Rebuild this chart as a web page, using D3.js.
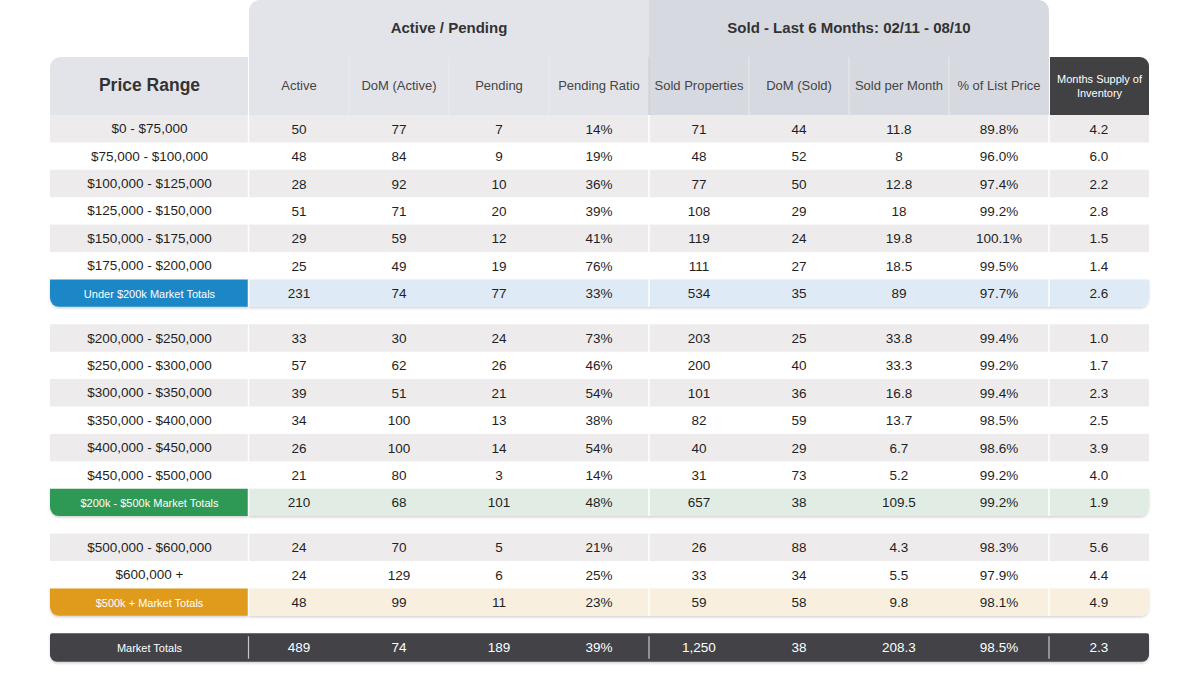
<!DOCTYPE html>
<html>
<head>
<meta charset="utf-8">
<script src="https://cdn.jsdelivr.net/npm/d3@7"></script>
<style>
  body { margin: 0; background: #fff; }
  svg { display: block; font-family: "Liberation Sans", Arial, sans-serif; }
</style>
</head>
<body>
<div id="chart"></div>
<script>
// rows in display order; kind: r = range row, t = group total, g = market total
const priceRanges = [
  "$0 - $75,000", "$75,000 - $100,000", "$100,000 - $125,000", "$125,000 - $150,000",
  "$150,000 - $175,000", "$175,000 - $200,000", "Under $200k Market Totals",
  "$200,000 - $250,000", "$250,000 - $300,000", "$300,000 - $350,000", "$350,000 - $400,000",
  "$400,000 - $450,000", "$450,000 - $500,000", "$200k - $500k Market Totals",
  "$500,000 - $600,000", "$600,000 +", "$500k + Market Totals",
  "Market Totals"
];
const rowKinds = ["r","r","r","r","r","r","t", "r","r","r","r","r","r","t", "r","r","t", "g"];

const active       = [50, 48, 28, 51, 29, 25, 231, 33, 57, 39, 34, 26, 21, 210, 24, 24, 48, 489];
const domActive    = [77, 84, 92, 71, 59, 49, 74, 30, 62, 51, 100, 100, 80, 68, 70, 129, 99, 74];
const pending      = [7, 9, 10, 20, 12, 19, 77, 24, 26, 21, 13, 14, 3, 101, 5, 6, 11, 189];
const pendingRatio = [14, 19, 36, 39, 41, 76, 33, 73, 46, 54, 38, 54, 14, 48, 21, 25, 23, 39];
const soldProps    = [71, 48, 77, 108, 119, 111, 534, 203, 200, 101, 82, 40, 31, 657, 26, 33, 59, 1250];
const domSold      = [44, 52, 50, 29, 24, 27, 35, 25, 40, 36, 59, 29, 73, 38, 88, 34, 58, 38];
const soldPerMonth = [11.8, 8, 12.8, 18, 19.8, 18.5, 89, 33.8, 33.3, 16.8, 13.7, 6.7, 5.2, 109.5, 4.3, 5.5, 9.8, 208.3];
const pctListPrice = [89.8, 96.0, 97.4, 99.2, 100.1, 99.5, 97.7, 99.4, 99.2, 99.4, 98.5, 98.6, 99.2, 99.2, 98.3, 97.9, 98.1, 98.5];
const monthsSupply = [4.2, 6.0, 2.2, 2.8, 1.5, 1.4, 2.6, 1.0, 1.7, 2.3, 2.5, 3.9, 4.0, 1.9, 5.6, 4.4, 4.9, 2.3];

const groupHeaders = ["Active / Pending", "Sold - Last 6 Months: 02/11 - 08/10"];
const columnHeaders = ["Active", "DoM (Active)", "Pending", "Pending Ratio",
  "Sold Properties", "DoM (Sold)", "Sold per Month", "% of List Price", "Months Supply of Inventory"];
const totalColors = [["#1e87c7", "#deebf6"], ["#2e9955", "#e1ede4"], ["#e09a1d", "#f8efdf"]];

const fmtInt = d3.format(",");
const columns = [
  { values: active, fmt: fmtInt },
  { values: domActive, fmt: fmtInt },
  { values: pending, fmt: fmtInt },
  { values: pendingRatio, fmt: d => d + "%" },
  { values: soldProps, fmt: fmtInt },
  { values: domSold, fmt: fmtInt },
  { values: soldPerMonth, fmt: fmtInt },
  { values: pctListPrice, fmt: d => d.toFixed(1) + "%" },
  { values: monthsSupply, fmt: d => d.toFixed(1) }
];

const width = 1200, height = 675;
const left = 50, labelRight = 249, right = 1149;
const headTop = 0, subTop = 57, bodyTop = 115;
const rowH = 27.4, gap = 17.5;

const svg = d3.select("#chart").append("svg")
  .attr("width", width).attr("height", height);

const defs = svg.append("defs");
defs.append("filter").attr("id", "shadow")
  .attr("x", "-5%").attr("y", "-20%").attr("width", "110%").attr("height", "160%")
  .append("feDropShadow")
  .attr("dx", 0).attr("dy", 1.5).attr("stdDeviation", 1.2)
  .attr("flood-color", "#000").attr("flood-opacity", 0.18);

const x = d3.scaleBand().domain(d3.range(columnHeaders.length)).range([labelRight, right]);

// y position of each row, with a gap after every total
const rowY = [];
let yy = bodyTop, stripe = 0;
const stripes = [];
rowKinds.forEach((k, i) => {
  rowY.push(yy);
  stripes.push(k === "r" ? stripe++ % 2 === 0 : false);
  yy += rowH;
  if (k === "t") { yy += gap; stripe = 0; }
});

function roundRect(x0, y0, w, h, r) {
  // r = [tl, tr, br, bl]
  const [tl, tr, br, bl] = r;
  return `M${x0 + tl},${y0}H${x0 + w - tr}` +
    (tr ? `A${tr},${tr} 0 0 1 ${x0 + w},${y0 + tr}` : "") +
    `V${y0 + h - br}` +
    (br ? `A${br},${br} 0 0 1 ${x0 + w - br},${y0 + h}` : "") +
    `H${x0 + bl}` +
    (bl ? `A${bl},${bl} 0 0 1 ${x0},${y0 + h - bl}` : "") +
    `V${y0 + tl}` +
    (tl ? `A${tl},${tl} 0 0 1 ${x0 + tl},${y0}` : "") + "Z";
}

// header
const head = svg.append("g");
const midX = x(4);
head.append("path")
  .attr("d", roundRect(labelRight, headTop, midX - labelRight, bodyTop - headTop, [11, 0, 0, 0]))
  .attr("fill", "#e3e4e9");
head.append("path")
  .attr("d", roundRect(midX, headTop, x(8) - midX, bodyTop - headTop, [0, 11, 0, 0]))
  .attr("fill", "#d7d9e1");
head.append("path")
  .attr("d", roundRect(left, subTop, labelRight - left - 1, bodyTop - subTop, [11, 0, 0, 0]))
  .attr("fill", "#e3e4e9");
head.append("path")
  .attr("d", roundRect(x(8) + 1, subTop, x.bandwidth() - 1, bodyTop - subTop, [0, 9, 0, 0]))
  .attr("fill", "#414144");

head.selectAll(".grp").data(groupHeaders).join("text")
  .attr("x", (d, i) => i === 0 ? (labelRight + midX) / 2 : (midX + x(8)) / 2)
  .attr("y", 33)
  .attr("text-anchor", "middle")
  .attr("font-size", 15).attr("font-weight", "bold").attr("fill", "#333")
  .text(d => d);

// faint splits between sub headers
head.selectAll(".hsep").data(d3.range(1, 8)).join("line")
  .attr("x1", d => x(d)).attr("x2", d => x(d))
  .attr("y1", subTop).attr("y2", bodyTop)
  .attr("stroke", d => d === 4 ? "#c9ccd6" : "#eaeaee").attr("stroke-width", 1);

head.append("text")
  .attr("x", (left + labelRight) / 2).attr("y", 91)
  .attr("text-anchor", "middle")
  .attr("font-size", 17.5).attr("font-weight", "bold").attr("fill", "#333")
  .text("Price Range");

head.selectAll(".sub").data(columnHeaders.slice(0, 8)).join("text")
  .attr("x", (d, i) => x(i) + x.bandwidth() / 2)
  .attr("y", 90)
  .attr("text-anchor", "middle")
  .attr("font-size", 13).attr("fill", "#444")
  .text(d => d);

const msi = head.append("text")
  .attr("x", x(8) + x.bandwidth() / 2 + 0.5)
  .attr("text-anchor", "middle")
  .attr("font-size", 11).attr("fill", "#fff");
msi.append("tspan").attr("x", x(8) + x.bandwidth() / 2 + 0.5).attr("y", 83).text("Months Supply of");
msi.append("tspan").attr("x", x(8) + x.bandwidth() / 2 + 0.5).attr("y", 97).text("Inventory");

// body rows
const body = svg.append("g");
let totalIdx = 0;
rowKinds.forEach((k, i) => {
  const y0 = rowY[i];
  const g = body.append("g");
  if (k === "r") {
    if (stripes[i]) {
      g.append("rect").attr("x", left).attr("y", y0).attr("width", right - left)
        .attr("height", rowH).attr("fill", "#edebec");
    }
  } else if (k === "t") {
    const [c, tint] = totalColors[totalIdx++];
    g.attr("filter", "url(#shadow)");
    g.append("path").attr("d", roundRect(labelRight, y0, right - labelRight, rowH, [0, 0, 9, 0]))
      .attr("fill", tint);
    g.append("path").attr("d", roundRect(left, y0, labelRight - left - 1, rowH, [0, 0, 0, 9]))
      .attr("fill", c);
  } else {
    g.attr("filter", "url(#shadow)");
    g.append("path").attr("d", roundRect(left, y0, right - left, rowH + 1, [2, 2, 7, 7]))
      .attr("fill", "#434346");
  }
});

// column separators
rowKinds.forEach((k, i) => {
  const y0 = rowY[i];
  const seps = [labelRight - 0.5, x(4), x(8)];
  body.selectAll(null).data(seps).join("line")
    .attr("x1", d => d).attr("x2", d => d)
    .attr("y1", k === "g" ? y0 + 3 : y0).attr("y2", k === "g" ? y0 + rowH - 2 : y0 + rowH)
    .attr("stroke", k === "g" ? "#c8c8cc" : "#fff")
    .attr("stroke-width", k === "g" ? 1.2 : 1.5);
});

// labels
body.selectAll(".lab").data(priceRanges).join("text")
  .attr("x", (left + labelRight) / 2)
  .attr("y", (d, i) => rowY[i] + rowH / 2 + 4.5)
  .attr("text-anchor", "middle")
  .attr("font-size", (d, i) => rowKinds[i] === "r" ? 13.5 : 11)
  .attr("fill", (d, i) => rowKinds[i] === "r" ? "#1f1f1f" : "#fff")
  .text(d => d);

// cells
columns.forEach((col, ci) => {
  body.selectAll(null).data(col.values).join("text")
    .attr("x", x(ci) + x.bandwidth() / 2)
    .attr("y", (d, i) => rowY[i] + rowH / 2 + 5)
    .attr("text-anchor", "middle")
    .attr("font-size", 13.5)
    .attr("fill", (d, i) => rowKinds[i] === "g" ? "#fff" : "#1f1f1f")
    .text(d => col.fmt(d));
});
</script>
</body>
</html>
